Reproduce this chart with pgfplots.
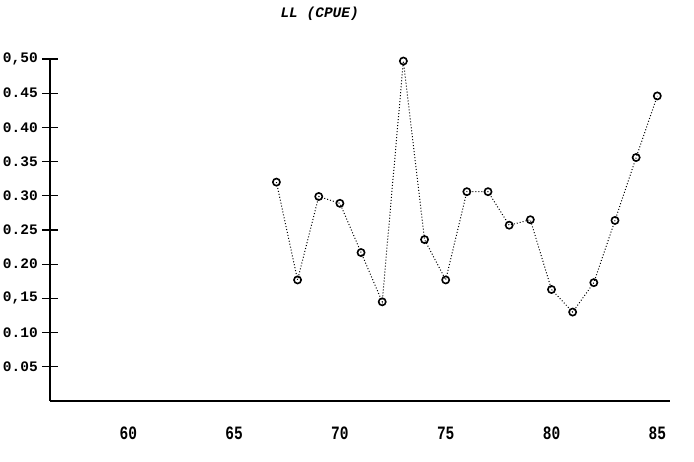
\documentclass[border=0pt]{standalone}
\usepackage{fontspec}
\setmainfont{Liberation Mono}
\usepackage{pgfplots}
\pgfplotsset{compat=1.18}

% Longline catch per unit effort, 1967-1985
\pgfplotstableread{
year cpue
67 0.320
68 0.177
69 0.299
70 0.289
71 0.217
72 0.145
73 0.497
74 0.236
75 0.177
76 0.306
77 0.306
78 0.257
79 0.265
80 0.163
81 0.130
82 0.173
83 0.264
84 0.356
85 0.446
}\cpuedata

\begin{document}
\begin{tikzpicture}
\begin{axis}[
  name=ax, at={(0,0)}, anchor=south west,
  scale only axis, width=620pt, height=342pt,
  xmin=56.3, xmax=85.6, ymin=0, ymax=0.5,
  axis x line=bottom, axis y line=left,
  axis line style={line width=1.3pt,-},
  xtick={60,65,70,75,80,85},
  xticklabels={60,65,70,75,80,85},
  xtick style={opacity=0},
  ytick={0.05,0.10,0.15,0.20,0.25,0.30,0.35,0.40,0.45,0.50},
  yticklabels={0.05,0.10,{0,15},0.20,0.25,0.30,0.35,0.40,0.45,{0,50}},
  ytick align=outside, major tick length=8pt,
  ytick style={line width=1.1pt, draw=black},
  % second set of ticks on the same values, drawn inward, to make crosses
  extra y ticks={0.05,0.10,0.15,0.20,0.25,0.30,0.35,0.40,0.45,0.50},
  extra y tick labels={},
  extra y tick style={ytick align=inside, ytick style={line width=1.1pt, draw=black}},
  font=\fontsize{14.5}{15}\selectfont\bfseries,
  yticklabel style={anchor=east, inner sep=0pt, xshift=-4pt},
  xticklabel style={anchor=center, inner sep=0pt, yshift=-28pt, yscale=1.3},
  title={LL (CPUE)},
  title style={at={(axis description cs:0.435,1.115)}, anchor=center,
               font=\fontsize{14.5}{15}\selectfont\bfseries\itshape},
  clip=false,
]
\addplot[black, dotted, line width=1pt,
  mark=o, mark size=3.6pt, mark options={solid, line width=1.6pt}]
  table[x=year, y=cpue] {\cpuedata};
\end{axis}
\pgfresetboundingbox
\path ([shift={(-50pt,-61pt)}]ax.south west) rectangle ([shift={(644pt,401pt)}]ax.south west);
\end{tikzpicture}
\end{document}
